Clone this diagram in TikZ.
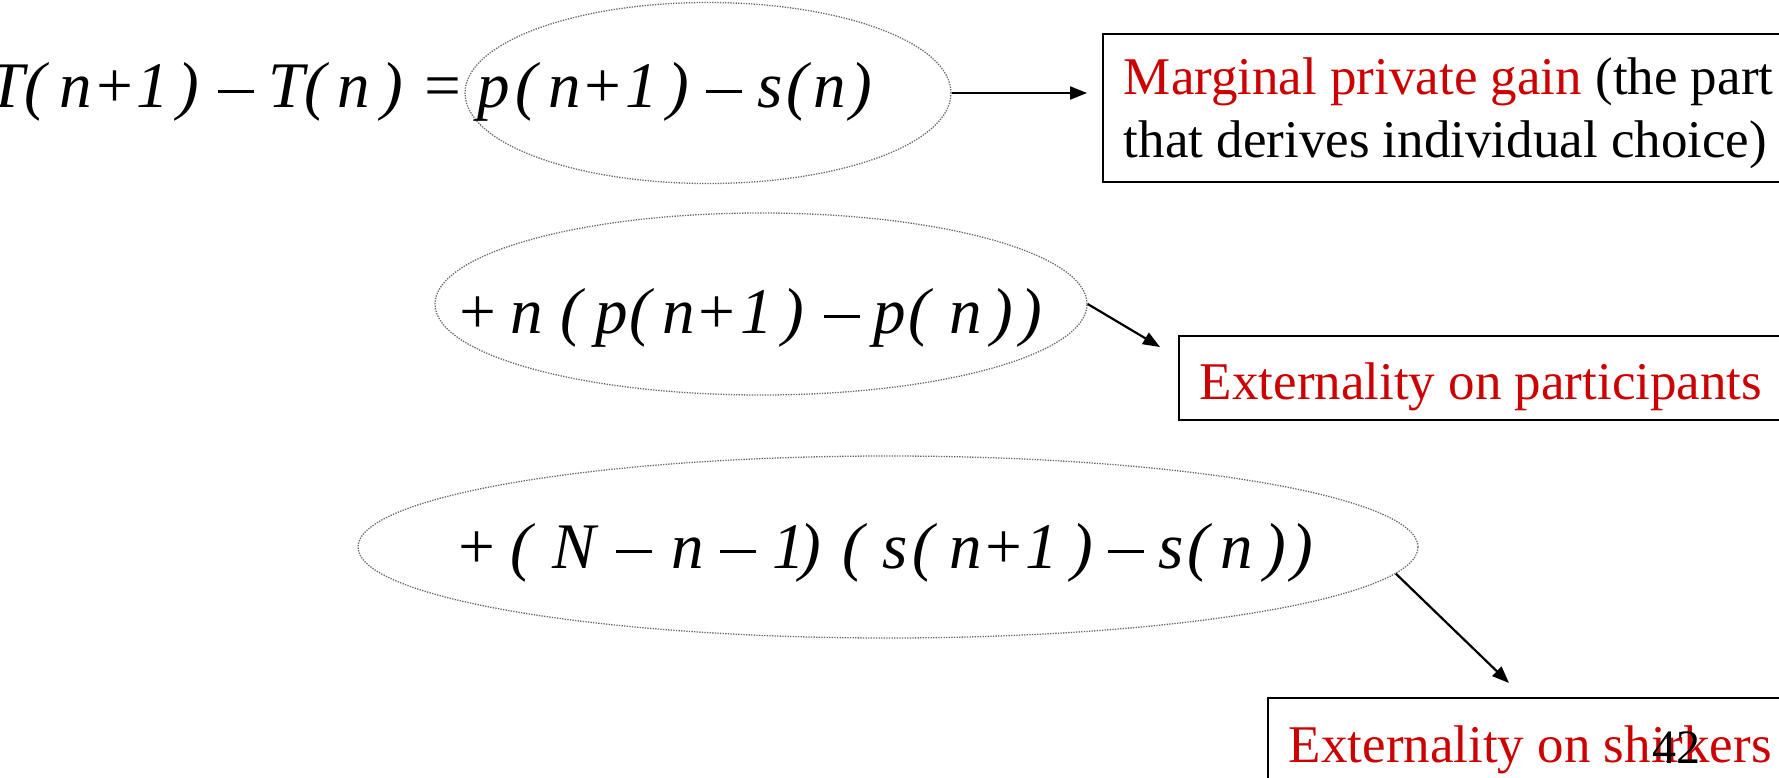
\documentclass[tikz,border=0pt]{standalone}
\usepackage{fontspec}
\setmainfont{Liberation Serif}
\newfontfamily\eqit{Liberation Serif Italic}
\usetikzlibrary{shapes.geometric,arrows.meta}
\definecolor{myred}{RGB}{204,0,0}
\newcommand\hk[1]{\kern#1pt}
\newcommand\mn{\rule[15pt]{36pt}{3pt}}
\tikzset{
  oval/.style={draw=black!60, line width=1.3pt, dash pattern=on 1.3pt off 1.3pt, ellipse, inner sep=0pt},
  eqtext/.style={anchor=base west, inner sep=0pt, font=\eqit\fontsize{65}{70}\selectfont},
  labelbox/.style={draw=black, line width=1.8pt, fill=white, inner xsep=21pt, font=\fontsize{53}{63}\selectfont},
  conn/.style={line width=2.2pt, -{Triangle[length=17pt,width=13pt]}},
}
\begin{document}
\begin{tikzpicture}[x=1pt,y=-1pt]
\useasboundingbox (0,0) rectangle (1779,778);
% ellipses
\node[oval, minimum width=486pt, minimum height=181pt] (e1) at (708,93) {};
\node[oval, minimum width=652pt, minimum height=182pt] (e2) at (761,304) {};
\node[oval, minimum width=1060pt, minimum height=182pt] (e3) at (888,547) {};
% equations
\node[eqtext] (q1) at (-12,108) {T(\hk{14}n+1\hk{9})\hk{18}\mn\hk{15}T(\hk{11}n\hk{12})\hk{17}=\hk{13}p\hk{6}(\hk{11}n+\hk{1}1\hk{9})\hk{17}\mn\hk{16}s\hk{3}(\hk{6}n\hk{4})};
\node[eqtext] (q2) at (455,333) {+\hk{11}n\hk{18}(\hk{13}p\hk{2}(\hk{11}n+\hk{2}1\hk{9})\hk{20}\mn\hk{14}p\hk{2}(\hk{19}n\hk{10})\hk{7})};
\node[eqtext] (q3) at (454,568) {+\hk{12}(\hk{21}N\hk{20}\mn\hk{19}n\hk{16}\mn\hk{17}1\hk{-6})\hk{22}(\hk{18}s\hk{5}(\hk{15}n+1\hk{13})\hk{15}\mn\hk{15}s\hk{3}(\hk{12}n\hk{11})\hk{6})};
% boxes
\node[labelbox, align=left, anchor=north west, inner ysep=0pt] (b1) at (1102,33)
  {\rule{0pt}{61pt}\textcolor{myred}{Marginal private gain} (the part\\that derives individual choice)\rule[-24pt]{0pt}{24pt}};
\node[labelbox, anchor=base west, inner ysep=0pt, text height=63pt, text depth=21pt] (b2) at (1178,399)
  {\textcolor{myred}{Externality on participants}};
\node[labelbox, anchor=base west, inner ysep=0pt, text height=64pt, text depth=21pt] (b3) at (1267,762)
  {\textcolor{myred}{Externality on shirkers}};
% slide number
\node[anchor=base west, inner sep=0pt, font=\fontsize{48}{50}\selectfont] (pg) at (1652,763) {42};
% connectors
\coordinate (t1) at (1087,93);
\coordinate (t2) at (1160,347);
\coordinate (t3) at (1509,683);
\draw[conn] (e1.east) -- (t1);
\draw[conn] (e2.east) -- (t2);
\draw[conn] (e3.-3.7) -- (t3);
\end{tikzpicture}
\end{document}
